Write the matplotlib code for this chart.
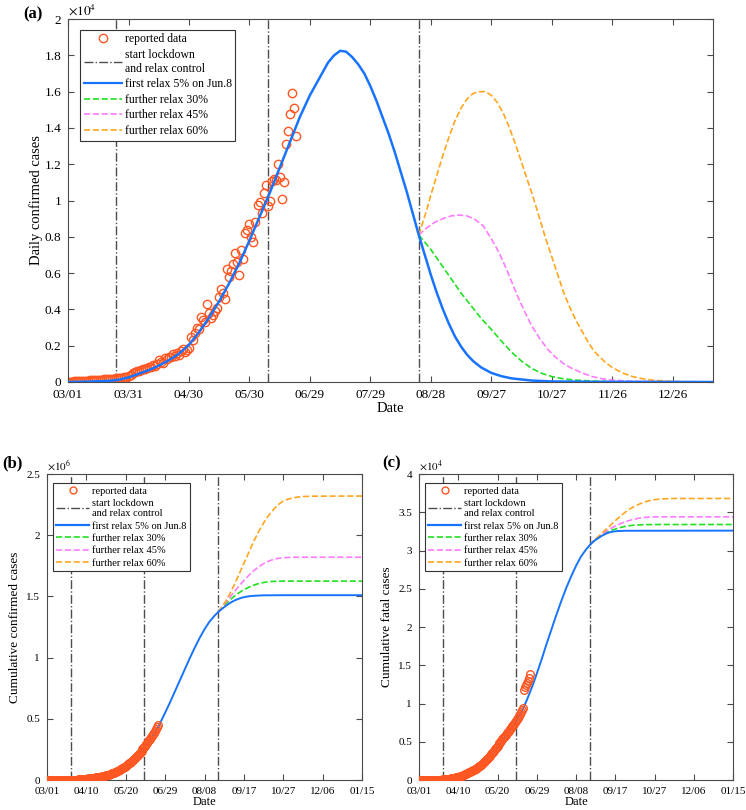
import numpy as np
import matplotlib
matplotlib.use("Agg")
import matplotlib.pyplot as plt
from matplotlib.lines import Line2D

plt.rcParams['font.family'] = ['Liberation Serif', 'DejaVu Serif']
plt.rcParams['mathtext.fontset'] = 'stix'

# ---------------- data (day 0 = 03/01) ----------------
# panel (a): daily reported cases, days 0..113
daily_reported = [10, 20, 20, 30, 30, 40, 50, 60, 60, 70,
                  80, 90, 90, 100, 110, 110, 120, 130, 140, 150,
                  160, 170, 180, 190, 200, 200, 220, 230, 250, 280,
                  320, 400, 500, 560, 600, 620, 650, 700, 720, 760,
                  800, 850, 950, 900, 1000, 1200, 1100, 1050, 1300, 1250,
                  1400, 1350, 1550, 1450, 1600, 1500, 1700, 1800, 1650, 1750,
                  1850, 2500, 2300, 2700, 3000, 2900, 3600, 3400, 3300, 4300,
                  3800, 3500, 3700, 3900, 4100, 4700, 5100, 4900, 4600, 6200,
                  5800, 6100, 6500, 7100, 6600, 5900, 7300, 6800, 8200, 8400,
                  8700, 8000, 7700, 8800, 9750, 9900, 9300, 10400, 10850, 9700,
                  10000, 11100, 11200, 11150, 12000, 11300, 10060, 11000, 13100, 13850,
                  14750, 15900, 15100, 13550]

# model curves, panel (a) (units 1e4)
a_blue_days = [0, 10, 20, 25, 30, 35, 40, 45, 50, 55, 60, 65, 70, 75, 80, 85, 90, 95,
               100, 105, 110, 115, 120, 123, 126, 129, 132, 135, 138, 141, 144, 147, 150,
               153, 156, 159, 162, 165, 168, 171, 174, 177, 180, 183, 186, 189, 192, 195,
               198, 201, 205, 210, 215, 220, 230, 240, 260, 320]
a_blue = [0.0, 0.002, 0.006, 0.012, 0.025, 0.045, 0.065, 0.09, 0.12, 0.155, 0.205, 0.275,
          0.355, 0.445, 0.545, 0.655, 0.78, 0.91, 1.04, 1.18, 1.32, 1.46, 1.58, 1.64,
          1.70, 1.76, 1.80, 1.825, 1.82, 1.79, 1.75, 1.70, 1.63, 1.55, 1.46, 1.37, 1.27,
          1.16, 1.05, 0.93, 0.81, 0.70, 0.59, 0.49, 0.40, 0.32, 0.25, 0.195, 0.15, 0.115,
          0.08, 0.05, 0.032, 0.02, 0.008, 0.003, 0.001, 0.0]
a_green_days = [174, 177, 180, 185, 190, 195, 200, 205, 210, 215, 220, 225, 230, 235, 240,
                245, 250, 260, 270, 290, 320]
a_green = [0.81, 0.77, 0.73, 0.65, 0.57, 0.49, 0.42, 0.35, 0.29, 0.225, 0.165, 0.115, 0.075,
           0.048, 0.03, 0.019, 0.012, 0.005, 0.002, 0.0005, 0.0]
a_pink_days = [174, 178, 182, 186, 190, 194, 198, 202, 206, 210, 214, 218, 222, 226, 230,
               234, 238, 242, 246, 250, 255, 260, 265, 270, 280, 300, 320]
a_pink = [0.81, 0.85, 0.88, 0.90, 0.915, 0.92, 0.915, 0.895, 0.86, 0.79, 0.71, 0.61, 0.50,
          0.40, 0.31, 0.24, 0.18, 0.135, 0.10, 0.075, 0.05, 0.03, 0.018, 0.01, 0.004, 0.001,
          0.0]
a_orange_days = [174, 176, 178, 180, 183, 186, 189, 192, 195, 198, 201, 204, 207, 210, 213,
                 216, 219, 222, 225, 228, 231, 234, 237, 240, 243, 246, 249, 252, 255, 258,
                 261, 264, 267, 270, 275, 280, 285, 290, 300, 320]
a_orange = [0.81, 0.88, 0.95, 1.03, 1.14, 1.25, 1.35, 1.44, 1.51, 1.56, 1.59, 1.60, 1.60,
            1.58, 1.54, 1.48, 1.40, 1.31, 1.21, 1.11, 1.01, 0.90, 0.79, 0.69, 0.59, 0.49,
            0.41, 0.34, 0.28, 0.22, 0.17, 0.135, 0.105, 0.08, 0.05, 0.03, 0.018, 0.01,
            0.003, 0.0]

# panel (b): cumulative reported cases, days 0..113
cum_reported = [10, 30, 50, 80, 110, 150, 200, 260, 320, 390,
                470, 560, 650, 750, 860, 970, 1090, 1220, 1360, 1510,
                1670, 1840, 2020, 2210, 2410, 2610, 2830, 3060, 3310, 3590,
                3910, 4310, 4810, 5370, 5970, 6590, 7240, 7940, 8660, 9420,
                10220, 11070, 12020, 12920, 13920, 15120, 16220, 17270, 18570, 19820,
                21220, 22570, 24120, 25570, 27170, 28670, 30370, 32170, 33820, 35570,
                37420, 39920, 42220, 44920, 47920, 50820, 54420, 57820, 61120, 65420,
                69220, 72720, 76420, 80320, 84420, 89120, 94220, 99120, 103720, 109920,
                115720, 121820, 128320, 135420, 142020, 147920, 155220, 162020, 170220, 178620,
                187320, 195320, 203020, 211820, 221570, 231470, 240770, 251170, 262020, 271720,
                281720, 292820, 304020, 315170, 327170, 338470, 348530, 359530, 372630, 386480,
                401230, 417130, 432230, 445780]

# model curves, panel (b) (units 1e6)
b_blue_days = [0, 10, 20, 30, 40, 50, 60, 70, 80, 90, 99, 105, 110, 114, 120, 125, 130,
               135, 140, 145, 150, 155, 160, 165, 170, 174, 178, 182, 186, 190, 194, 198,
               202, 206, 210, 220, 240, 320]
b_blue = [0.0, 0.0005, 0.0015, 0.004, 0.01, 0.02, 0.036, 0.065, 0.11, 0.18, 0.265, 0.33,
          0.39, 0.45, 0.55, 0.635, 0.725, 0.815, 0.905, 0.995, 1.08, 1.16, 1.232, 1.293,
          1.341, 1.373, 1.40, 1.425, 1.447, 1.465, 1.479, 1.49, 1.497, 1.502, 1.505, 1.509,
          1.51, 1.51]
b_green_days = [174, 177, 180, 185, 190, 195, 200, 205, 210, 215, 220, 225, 230, 240, 320]
b_green = [1.373, 1.40, 1.425, 1.465, 1.50, 1.53, 1.555, 1.575, 1.592, 1.605, 1.614, 1.62,
           1.623, 1.625, 1.625]
b_pink_days = [174, 177, 180, 185, 190, 195, 200, 205, 210, 215, 220, 225, 230, 235, 240,
               250, 320]
b_pink = [1.373, 1.405, 1.435, 1.485, 1.535, 1.585, 1.63, 1.672, 1.71, 1.742, 1.768, 1.788,
          1.802, 1.811, 1.816, 1.82, 1.82]
b_orange_days = [174, 177, 180, 185, 190, 195, 200, 205, 210, 215, 220, 225, 230, 235, 240,
                 245, 250, 255, 260, 270, 320]
b_orange = [1.373, 1.405, 1.44, 1.51, 1.59, 1.68, 1.77, 1.86, 1.95, 2.03, 2.10, 2.16, 2.21,
            2.25, 2.28, 2.295, 2.305, 2.312, 2.316, 2.319, 2.32]

# panel (c): cumulative reported deaths, days 0..113
cum_deaths = [0, 0, 0, 0, 0, 1, 1, 2, 3, 4,
              5, 6, 8, 10, 12, 15, 18, 22, 27, 32,
              38, 45, 52, 60, 70, 80, 92, 105, 120, 136,
              150, 170, 190, 215, 240, 265, 290, 320, 350, 385,
              420, 460, 500, 545, 590, 640, 690, 745, 800, 860,
              920, 985, 1050, 1120, 1190, 1260, 1340, 1420, 1500, 1590,
              1680, 1780, 1880, 1990, 2100, 2220, 2340, 2470, 2600, 2740,
              2880, 3030, 3180, 3340, 3500, 3660, 3830, 4000, 4170, 4340,
              4510, 4680, 4850, 5000, 5150, 5300, 5460, 5620, 5780, 5950,
              6120, 6290, 6460, 6640, 6820, 7000, 7180, 7370, 7560, 7760,
              7960, 8170, 8380, 8620, 8880, 9150, 9430,
              11800, 12100, 12400, 12700, 13000, 13400, 13800]

# model curves, panel (c) (units 1e4)
c_blue_days = [0, 20, 30, 40, 50, 60, 70, 80, 90, 99, 105, 110, 115, 120, 125, 130, 135,
               140, 145, 150, 155, 160, 165, 170, 174, 177, 180, 183, 186, 189, 192, 195,
               198, 202, 210, 320]
c_blue = [0.0, 0.004, 0.015, 0.04, 0.09, 0.165, 0.28, 0.43, 0.6, 0.77, 0.9, 1.05, 1.21,
          1.39, 1.58, 1.78, 1.97, 2.16, 2.34, 2.51, 2.66, 2.80, 2.92, 3.01, 3.07, 3.11,
          3.14, 3.165, 3.19, 3.21, 3.228, 3.24, 3.248, 3.254, 3.258, 3.26]
c_green_days = [174, 177, 180, 185, 190, 195, 200, 205, 210, 215, 220, 230, 240, 320]
c_green = [3.07, 3.11, 3.145, 3.19, 3.23, 3.26, 3.28, 3.30, 3.315, 3.325, 3.332, 3.338,
           3.34, 3.34]
c_pink_days = [174, 177, 180, 185, 190, 195, 200, 205, 210, 215, 220, 225, 230, 240, 320]
c_pink = [3.07, 3.11, 3.15, 3.20, 3.245, 3.285, 3.32, 3.35, 3.375, 3.395, 3.41, 3.425,
          3.433, 3.44, 3.44]
c_orange_days = [174, 177, 180, 185, 190, 195, 200, 205, 210, 215, 220, 225, 230, 235,
                 240, 245, 250, 260, 320]
c_orange = [3.07, 3.11, 3.15, 3.21, 3.27, 3.33, 3.39, 3.445, 3.50, 3.545, 3.58, 3.61, 3.635,
            3.652, 3.664, 3.672, 3.676, 3.68, 3.68]

event_days = [24, 99, 174]   # 03/25 lockdown, 06/08 first relax, 08/22 further relax

a_xticks = [0, 30, 60, 90, 120, 150, 180, 210, 240, 270, 300]
a_xticklabels = ['03/01', '03/31', '04/30', '05/30', '06/29', '07/29', '08/28',
                 '09/27', '10/27', '11/26', '12/26']
bc_xticks = [0, 40, 80, 120, 160, 200, 240, 280, 320]
bc_xticklabels = ['03/01', '04/10', '05/20', '06/29', '08/08', '09/17', '10/27',
                  '12/06', '01/15']
a_yticks = [0, 0.2, 0.4, 0.6, 0.8, 1, 1.2, 1.4, 1.6, 1.8, 2]
b_yticks = [0, 0.5, 1, 1.5, 2, 2.5]
c_yticks = [0, 0.5, 1, 1.5, 2, 2.5, 3, 3.5, 4]

labels = ['reported data', 'start lockdown\nand relax control', 'first relax 5% on Jun.8',
          'further relax 30%', 'further relax 45%', 'further relax 60%']

# ---------------- styles ----------------
col_mark = '#FF5722'
col_blue = '#1874FF'
col_green = '#22E022'
col_pink = '#FF7BFF'
col_orange = '#FFA620'
col_vline = '#4d4d4d'
col_axis = '#4a4a4a'

fig = plt.figure(figsize=(7.46, 8.10), dpi=100)
ax_a = fig.add_axes([0.0912, 0.5284, 0.8646, 0.4481])
ax_b = fig.add_axes([0.063, 0.037, 0.4223, 0.3778])
ax_c = fig.add_axes([0.5617, 0.037, 0.4209, 0.3778])


def add_legend(ax, fs, ms):
    handles = [Line2D([], [], ls='none', marker='o', mfc='none', mec=col_mark, ms=ms, mew=1),
               Line2D([], [], ls='-.', color=col_vline, lw=1),
               Line2D([], [], ls='-', color=col_blue, lw=1.6),
               Line2D([], [], ls='--', color=col_green, lw=1.2),
               Line2D([], [], ls='--', color=col_pink, lw=1.2),
               Line2D([], [], ls='--', color=col_orange, lw=1.2)]
    leg = ax.legend(handles, labels, loc='upper left', bbox_to_anchor=(0.019, 0.97),
                    borderaxespad=0, fontsize=fs, fancybox=False, framealpha=1,
                    edgecolor='#333333', handlelength=3.2, handletextpad=0.25,
                    labelspacing=0.3, borderpad=0.3)
    leg.get_frame().set_linewidth(0.8)


def draw_panel(ax, blue, others, data, scale, yticks, xticks, xticklabels,
               offset, fs, ms, data_below):
    for d in event_days:
        ax.axvline(d, ls='-.', color=col_vline, lw=1)
    for days, vals, col in others:
        ax.plot(days, np.array(vals) * scale, '--', color=col, lw=1.2)
    z_data = 2 if data_below else 4
    ax.plot(np.arange(len(data)), data, ls='none', marker='o', mfc='none',
            mec=col_mark, ms=ms, mew=1, zorder=z_data)
    ax.plot(blue[0], np.array(blue[1]) * scale, '-', color=col_blue, lw=blue[2], zorder=3)
    ax.set_xlim(0, 320)
    ax.set_ylim(0, yticks[-1] * scale)
    ax.set_xticks(xticks)
    ax.set_xticklabels(xticklabels)
    ax.set_yticks(np.array(yticks) * scale)
    ax.set_yticklabels(['%g' % v for v in yticks])
    ax.tick_params(direction='in', top=True, right=True, length=4, width=0.8, pad=5,
                   colors=col_axis, labelcolor='black', labelsize=fs)
    for s in ax.spines.values():
        s.set_color(col_axis)
        s.set_linewidth(0.8)
    ax.text(0.0, 1.004, offset, transform=ax.transAxes, ha='left', va='bottom', fontsize=fs)


# ---- (a) ----
draw_panel(ax_a, (a_blue_days, a_blue, 1.8),
           [(a_green_days, a_green, col_green), (a_pink_days, a_pink, col_pink),
            (a_orange_days, a_orange, col_orange)],
           daily_reported, 1e4, a_yticks, a_xticks, a_xticklabels,
           r'$\times10^{4}$', 9.5, 6, True)
ax_a.set_xlabel('Date', fontsize=10.5, labelpad=1)
ax_a.set_ylabel('Daily confirmed cases', fontsize=10.5, labelpad=1)
add_legend(ax_a, 8.5, 6)
fig.text(0.031, 0.982, '(a)', fontsize=12, fontweight='bold', ha='left', va='center')

# ---- (b) ----
draw_panel(ax_b, (b_blue_days, b_blue, 1.4),
           [(b_green_days, b_green, col_green), (b_pink_days, b_pink, col_pink),
            (b_orange_days, b_orange, col_orange)],
           cum_reported, 1e6, b_yticks, bc_xticks, bc_xticklabels,
           r'$\times10^{6}$', 8, 5.5, False)
ax_b.set_xlabel('Date', fontsize=9, labelpad=0)
ax_b.set_ylabel('Cumulative confirmed cases', fontsize=9.5, labelpad=4)
add_legend(ax_b, 7.5, 5)
fig.text(0.003, 0.428, '(b)', fontsize=12, fontweight='bold', ha='left', va='center')

# ---- (c) ----
draw_panel(ax_c, (c_blue_days, c_blue, 1.4),
           [(c_green_days, c_green, col_green), (c_pink_days, c_pink, col_pink),
            (c_orange_days, c_orange, col_orange)],
           cum_deaths, 1e4, c_yticks, bc_xticks, bc_xticklabels,
           r'$\times10^{4}$', 8, 5.5, False)
ax_c.set_xlabel('Date', fontsize=9, labelpad=0)
ax_c.set_ylabel('Cumulative fatal cases', fontsize=9.5, labelpad=4)
add_legend(ax_c, 7.5, 5)
fig.text(0.512, 0.428, '(c)', fontsize=12, fontweight='bold', ha='left', va='center')

fig.savefig('out.png', dpi=100)
